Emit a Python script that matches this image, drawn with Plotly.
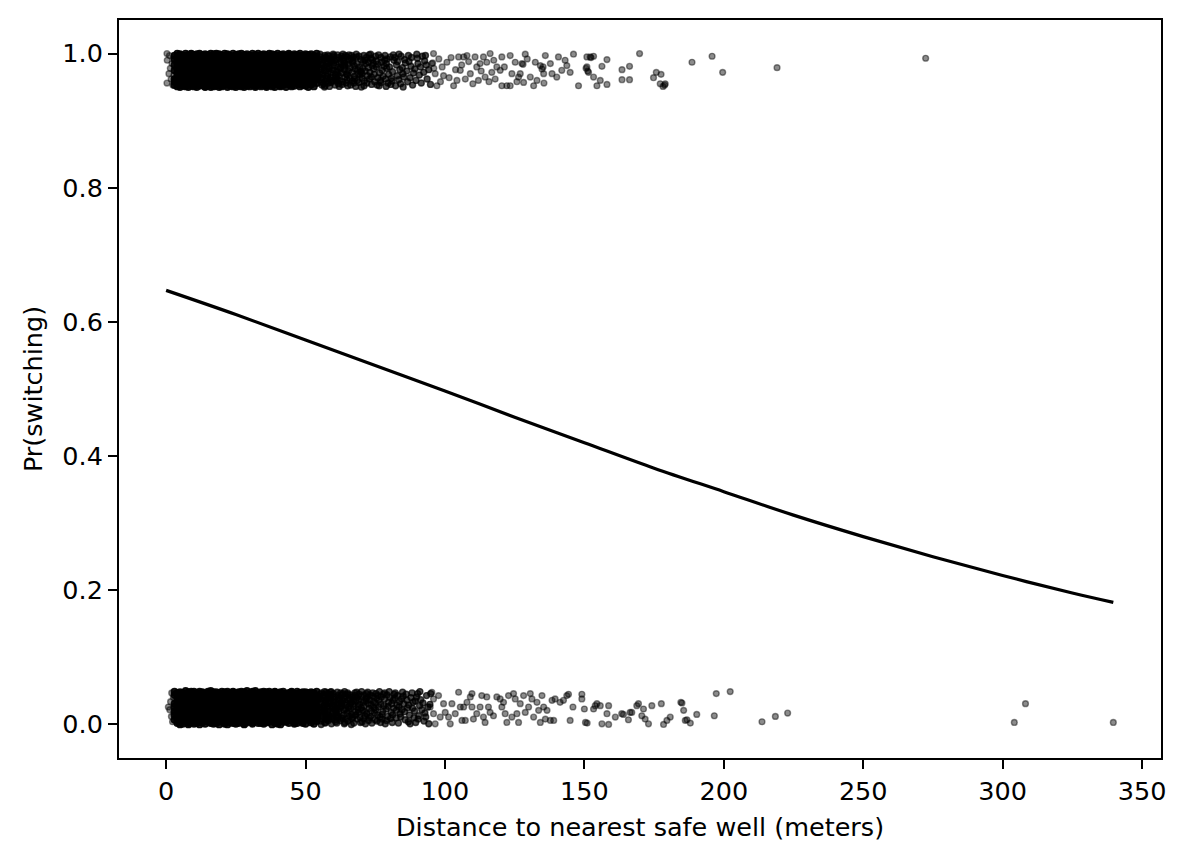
import plotly.graph_objects as go

# ---------------- data ----------------
# fitted curve Pr(switching) vs distance (m)
fit_dist = [0, 25, 50, 75, 100, 125, 150, 175, 200, 225, 250, 275, 300, 325, 339.7]
fit_pr = [0.647, 0.611, 0.573, 0.535, 0.497, 0.458, 0.420, 0.382, 0.347, 0.312,
          0.280, 0.250, 0.222, 0.196, 0.182]

# jitter values are in thousandths (0..50) above the band base (1 -> 0.95, 0 -> 0.0)

# --- switchers (top band) ---
# dense block: number of households per 1-m bin, starting at 3 m
top_core_counts = [7, 11, 13, 14, 15, 15, 16,
                   16, 16, 17, 16, 16, 17, 16, 16, 17, 16,
                   16, 17, 16, 16, 16, 17, 16, 16, 16, 16,
                   16, 16, 15, 16, 16, 15, 16, 15, 16, 15,
                   15, 15, 14, 15, 14, 14, 13, 14, 13, 13,
                   12, 12, 11, 12, 11]
top_core_jit = [
    12,47,3,33,25,41,8,19,50,29,1,38,15,44,22,6,35,27,48,10,
    31,4,42,17,26,49,13,37,0,21,45,9,30,40,16,2,34,23,46,11,
    28,43,7,36,20,14,50,32,5,39,24,18,47,1,29,44,12,26,38,3,
    41,15,33,9,48,22,6,35,19,45,27,0,40,13,30,49,8,24,37,17,
    2,46,21,34,11,43,28,5,39,16,50,25,10,36,31,3,44,18,27,7,
    42,14,33,48,20,1,37,23,9,45,30,12,40,26,4,35,17,49,22,8,
    38,29,0,44,15,32,47,6,24,41,11,36,19,2,46,27,13,34,50,21,
    5,39,25,10,43,18,31,48,3,28,16,42,7,35,22,45,0,30,14,37,
    26,9,47,20,33,1,40,12,49,24,6,38,17,44,29,4,36,11,46,23,
    15,41,32,2,27,48,8,19,35,45,13,30,0,39,21,43,10,25,50,6,
    34,18,44,28,3,37,14,47,23,9,42,31,16,1,40,26,49,11,36,20,
    7,45,29,12,38,22,50,4,33,17,46,25,8,41,19,35,2,30,43,14,
    27,0,39,10,48,21,32,6,44,16,37,24,13,49,3,28,42,18,34,9,
    46,20,5,36,26,41,11,31,47,1,23,38,15,45,29,7,40,17,50,12,
    33,3,43,22,14,39,27,8,48,19,35,0,30,44,10,25,37,4,42,16,
    24,49,13,32,6,46,18,40,28,2,36,21,11,47,31,15,43,9,26,38,
    1,34,45,17,29,5,41,23,12,50,20,37,8,44,27,14,39,3,32,48,
    19,10,35,42,25,0,30,46,16,38,7,28,49,13,33,22,4,45,18,40,
    11,43,26,2,37,21,47,9,31,15,40,6,24,36,1,44,29,17,50,12,
    35,8,41,27,18,45,3,33,22,48,14,38,10,30,42,5,26,46,19,0,
    29,39,13,44,7,25,36,16,49,2,32,21,43,11,37,28,6,47,15,34,
    23,4,40,31,12,47,20,1,38,26,45,9,35,17,42,30,14,50,3,27,
    44,18,6,36,24,41,10,33,48,15,0,29,39,21,8,46,32,13,37,25,
    2,42,28,11,45,19,34,5,40,23,50,16,30,7,43,26,12,38,20,47,
    14,31,48,22,3,37,27,9,44,17,35,1,41,25,10,49,33,18,6,39,
    30,12,45,26,40,8,21,36,15,47,4,32,24,42,0,28,46,11,35,19,
    48,23,2,38,16,43,29,10,34,50,20,7,44,27,13,39,5,31,22,41,
    9,36,25,47,1,33,18,45,12,28,40,3,37,21,49,15,30,8,43,26,
    39,6,31,17,46,24,0,41,27,14,35,48,10,22,44,32,4,38,19,29,
    16,50,11,34,21,43,7,30,45,2,26,37,13,48,18,40,9,33,24,1,
    42,27,36,5,47,15,32,20,39,11,44,23,3,35,28,49,14,41,6,31,
    25,10,45,19,38,0,29,46,13,34,22,42,8,37,17,50,26,4,30,43,
    12,40,21,48,7,33,26,15,44,3,36,18,47,24,9,39,31,1,45,20,
    35,14,28,2,41,23,49,11,30,38,5,46,16,27,43,10,34,21,48,6,
    18,44,32,9,37,25,1,42,20,47,13,29,40,4,35,22,50,15,26,39,
    3,30,47,16,24,45,12,36,8,41,27,19,49,2,33,44,11,38,23,28,
    46,7,34,40,15,28,43,21,0,37,31,10,45,25,18,48,5,32,14,42,
    22,39,4,29,49,13,35,26,44,9,20,41,1,36,30,47,17,24,11,45,
    33,16,43,6,27,38,19,50,12,31,2,46,23,40,8,35,28,14,48,21]

top_mid_x = [
    55.1,55.3,55.4,55.6,55.8,55.2,55.9,55.5,55.0,55.7,
    56.2,56.4,56.7,56.9,56.1,56.5,56.3,56.8,56.0,56.6,
    57.3,57.1,57.6,57.8,57.4,57.0,57.9,57.2,57.5,57.7,
    58.5,58.2,58.8,58.0,58.4,58.7,58.1,58.6,58.3,
    59.4,59.1,59.7,59.9,59.2,59.5,59.0,59.8,59.6,
    60.3,60.6,60.1,60.8,60.4,60.0,60.9,60.2,60.7,
    61.5,61.2,61.8,61.0,61.6,61.3,61.9,61.4,
    62.1,62.7,62.4,62.9,62.2,62.6,62.0,62.5,
    63.6,63.3,63.0,63.8,63.4,63.1,63.9,63.5,
    64.2,64.8,64.5,64.0,64.6,64.3,64.9,64.1,
    65.4,65.1,65.7,65.9,65.2,65.6,65.0,
    66.3,66.8,66.0,66.5,66.2,66.7,66.9,
    67.5,67.1,67.8,67.3,67.0,67.6,67.4,
    68.2,68.9,68.5,68.0,68.7,68.3,68.6,
    69.4,69.1,69.8,69.6,69.2,69.9,
    70.3,70.7,70.0,70.5,70.9,70.2,
    71.6,71.1,71.8,71.4,71.0,71.3,
    72.2,72.8,72.5,72.0,72.6,72.9,
    73.4,73.1,73.7,73.9,73.3,73.6,
    74.5,74.0,74.8,74.2,74.6,
    75.1,75.7,75.4,75.9,75.3,
    76.6,76.2,76.9,76.0,76.4,
    77.3,77.8,77.1,77.5,77.0,
    78.7,78.2,78.5,78.9,78.4,
    79.1,79.6,79.3,79.8,79.0,
    80.4,80.8,80.1,80.6,
    81.2,81.7,81.0,81.5,
    82.6,82.3,82.9,82.1,
    83.4,83.0,83.8,83.5,
    84.1,84.7,84.3,84.9,
    85.5,85.2,85.8,85.0,
    86.3,86.9,86.6,
    87.1,87.5,87.8,
    88.4,88.0,88.7,
    89.2,89.6,89.9,
    90.3,90.8,90.1,
    91.5,91.2,91.9,
    92.4,92.7,
    93.0,93.6,93.3,
    94.2,94.8]
top_mid_jit = [
    22,45,8,33,14,49,3,27,40,18,
    36,5,29,47,12,41,20,0,33,25,
    9,44,31,16,38,2,48,24,13,43,
    28,6,39,19,46,11,35,1,30,
    42,15,26,49,7,37,21,45,10,
    32,3,47,18,40,25,9,36,14,
    48,23,5,41,30,12,44,19,
    1,35,27,46,10,38,17,29,
    43,8,21,33,49,4,26,39,
    15,45,6,31,20,47,11,36,
    24,2,40,13,34,48,18,
    42,9,29,47,3,22,37,
    16,44,27,6,39,12,32,
    49,20,35,1,25,45,10,
    30,7,41,18,46,23,
    13,38,0,28,47,20,
    35,9,44,24,2,40,
    17,48,29,6,37,12,
    43,22,4,32,49,15,
    27,41,8,36,19,
    46,3,30,14,39,
    21,48,10,34,2,
    37,16,44,25,7,
    12,31,47,1,40,
    28,6,42,19,35,
    45,13,30,4,
    23,40,9,48,
    33,2,17,44,
    11,38,26,49,
    5,29,46,20,
    41,15,36,0,
    24,47,8,
    38,14,31,
    3,44,21,
    27,10,49,
    35,18,43,
    6,30,46,
    22,39,
    47,12,33,
    26,4]

top_sparse_x = [
    0.3, 0.4, 0.3, 1.0, 1.2, 1.5, 1.8, 2.1, 2.4, 2.6, 2.8,
    95.9, 95.3, 96.5, 97.1, 99.5, 100.7, 103.1, 104.9, 105.5, 106.7,
    107.9, 107.3, 109.1, 110.8, 111.4, 112.6, 112.0, 113.8, 114.4, 115.0,
    116.2, 116.8, 118.0, 118.6, 119.8, 120.4, 120.4, 122.2, 123.4, 123.4,
    124.0, 125.2, 126.4, 127.0, 127.6, 128.8, 128.2, 130.6, 131.8, 132.4,
    133.0, 134.2, 134.8, 135.4, 136.0, 137.8, 138.4, 140.1, 140.7, 141.9,
    143.1, 143.7, 144.9, 146.1, 147.9, 150.9, 152.1, 153.3, 150.9, 151.5,
    153.3, 154.5, 155.7, 156.3, 158.1, 158.1, 163.5, 163.5, 166.2, 166.2,
    169.8, 174.8, 175.8, 177.5, 177.2, 178.2, 179.0, 188.6, 195.8, 199.6,
    219.1, 272.4,
    96.0, 97.8, 98.4, 99.0, 101.5, 102.2, 103.8, 104.3, 106.0, 108.5,
    110.0, 113.0, 115.8, 117.5, 121.3, 125.8, 129.5, 135.5, 152.4, 150.6,
    151.2, 178.8, 128.0, 135.2, 95.6]
top_sparse_jit = [
    50, 40, 6, 20, 47, 28, 12, 35, 3, 44, 18,
    50, 35, 20, 2, 17, 37, 2, 45, 25, 45,
    47, 12, 20, 45, 30, 35, 10, 45, 15, 37,
    50, 22, 12, 30, 25, 45, 2, 2, 47, 2,
    20, 37, 15, 20, 35, 49, 7, 15, 2, 37,
    10, 32, 27, 20, 47, 35, 20, 15, 45, 25,
    40, 32, 22, 49, 2, 45, 45, 46, 30, 22,
    15, 2, 10, 31, 41, 4, 26, 11, 31, 11,
    50, 14, 22, 19, 5, 1, 5, 37, 46, 22,
    29, 43,
    28, 42, 8, 30, 14, 44, 26, 10, 33, 38,
    5, 24, 8, 40, 30, 8, 42, 6, 44, 28,
    24, 3, 34, 30, 36]

# --- non-switchers (bottom band) ---
bot_core_counts = [7, 11, 13, 14, 15, 15, 15,
                   16, 15, 16, 16, 15, 16, 16, 15, 16, 16,
                   15, 16, 16, 15, 16, 15, 16, 16, 15, 15,
                   15, 15, 16, 15, 14, 15, 15, 14, 15, 14,
                   14, 14, 13, 14, 14, 13, 13, 13, 12, 13,
                   12, 12, 11, 11, 12]
bot_core_jit = [
    20,44,7,31,14,49,26,2,38,17,45,10,33,23,41,5,29,47,12,36,
    0,25,42,16,34,8,48,21,39,3,30,13,46,27,9,43,19,35,1,40,
    24,11,47,32,6,37,18,44,28,4,50,15,35,22,42,9,31,26,45,13,
    38,2,29,41,17,48,23,7,34,46,11,27,39,0,20,43,14,33,25,49,
    8,36,19,45,30,3,40,24,12,47,28,16,37,5,44,21,32,10,42,18,
    27,49,1,35,22,14,43,31,6,39,25,46,9,33,18,41,2,29,47,15,
    11,40,26,4,46,32,20,38,13,49,7,30,44,17,36,23,0,42,28,12,
    45,19,34,9,28,41,15,48,24,3,37,21,47,11,31,5,39,26,43,16,
    30,6,44,23,38,1,33,18,46,27,12,40,4,35,25,49,14,32,8,42,
    17,47,29,10,36,21,45,3,31,41,16,26,50,7,38,22,13,44,2,34,
    39,24,5,43,15,33,27,48,9,20,46,30,1,37,12,42,28,18,45,6,
    26,35,48,13,41,8,22,39,31,2,44,17,34,24,47,10,36,19,4,29,
    43,14,30,37,0,46,25,12,40,21,33,6,49,28,16,38,9,45,23,32,
    7,41,19,27,47,11,35,44,3,29,22,42,14,36,1,31,48,18,39,25,
    34,0,45,21,9,38,30,16,49,26,5,43,32,12,40,20,27,46,10,37,
    15,28,42,3,33,47,18,24,36,8,44,13,29,41,23,2,35,49,17,30,
    48,22,11,39,26,6,43,34,14,46,31,19,1,38,27,45,10,33,24,4,
    36,12,47,29,18,40,2,25,44,15,37,9,48,21,32,43,7,28,41,16,
    23,45,31,5,37,20,49,13,28,42,4,35,18,46,11,30,39,25,0,44,
    10,33,19,48,26,1,41,29,16,38,45,7,24,34,50,14,27,42,3,36,
    42,27,6,32,44,22,12,47,35,9,21,40,30,15,43,5,37,19,48,26,
    3,39,46,17,28,34,7,43,23,1,49,31,11,36,25,41,18,45,13,30,
    32,14,24,50,8,40,19,35,44,27,13,38,2,47,20,29,42,10,33,22,
    46,5,37,21,43,15,30,2,39,48,24,6,34,26,45,12,40,28,17,49,
    19,31,9,44,25,36,47,16,11,33,41,1,29,44,7,37,23,46,14,35,
    28,48,18,3,40,29,21,45,34,6,26,49,15,39,32,4,43,20,10,41,
    37,9,42,25,14,47,0,33,22,43,18,36,8,45,27,13,49,30,40,2,
    21,44,30,12,35,26,48,7,41,17,39,3,46,24,11,34,19,42,28,15,
    47,1,34,40,20,10,43,29,5,38,31,45,23,14,48,36,0,26,33,9,
    13,38,24,46,8,31,17,41,27,49,4,22,37,12,44,29,40,6,35,20,
    41,26,4,28,45,37,13,2,47,19,35,28,42,8,30,16,46,24,11,39,
    6,32,49,15,23,42,33,20,10,44,25,48,1,36,21,43,9,31,45,17,
    35,18,38,43,3,27,46,11,39,30,14,7,49,25,34,2,40,22,47,12,
    24,45,10,30,36,16,5,41,21,47,32,40,18,4,28,44,13,37,26,48,
    2,29,43,20,48,12,39,26,34,8,46,17,31,42,1,23,45,15,36,27,
    44,16,33,7,38,25,47,14,3,41,29,20,48,35,11,39,6,30,43,22,
    31,47,22,40,13,1,34,45,27,18,43,9,36,24,49,16,38,5,28,41,
    12,37,26,46,19,42,31,8,44,23,15,48,3,33,40,27,10,45,21,35]

bot_mid_x = [
    55.0,55.2,55.4,55.5,55.7,55.9,55.1,55.3,55.6,55.8,55.4,
    56.1,56.3,56.6,56.8,56.0,56.4,56.9,56.2,56.5,56.7,
    57.2,57.5,57.8,57.0,57.3,57.6,57.9,57.1,57.4,57.7,57.5,
    58.1,58.4,58.7,58.9,58.2,58.5,58.0,58.6,58.3,58.8,
    59.3,59.6,59.0,59.8,59.1,59.5,59.9,59.2,59.7,59.4,
    60.2,60.5,60.8,60.0,60.4,60.7,60.1,60.9,60.3,60.6,
    61.4,61.1,61.7,61.9,61.2,61.5,61.0,61.8,61.3,
    62.5,62.2,62.8,62.0,62.6,62.3,62.9,62.1,62.7,
    63.1,63.6,63.3,63.9,63.0,63.4,63.7,63.2,63.8,
    64.4,64.0,64.7,64.2,64.9,64.5,64.1,64.6,
    65.3,65.8,65.0,65.5,65.2,65.9,65.6,65.1,
    66.6,66.1,66.4,66.9,66.2,66.7,66.0,66.5,
    67.2,67.7,67.0,67.4,67.9,67.3,67.6,67.1,
    68.5,68.1,68.8,68.3,68.0,68.6,68.9,
    69.2,69.7,69.4,69.0,69.9,69.5,69.1,
    70.4,70.1,70.8,70.6,70.0,70.3,70.9,
    71.3,71.7,71.0,71.5,71.9,71.2,71.6,
    72.1,72.6,72.9,72.3,72.0,72.5,72.8,
    73.5,73.2,73.8,73.0,73.6,73.3,
    74.1,74.7,74.4,74.9,74.2,74.6,
    75.6,75.0,75.3,75.8,75.5,75.2,
    76.3,76.8,76.1,76.5,76.9,76.0,
    77.7,77.2,77.5,77.0,77.9,77.4,
    78.1,78.6,78.3,78.9,78.4,
    79.5,79.2,79.8,79.0,79.6,
    80.3,80.7,80.0,80.5,80.9,
    81.6,81.1,81.4,81.8,81.2,
    82.2,82.8,82.5,82.0,82.6,
    83.3,83.7,83.0,83.9,83.5,
    84.4,84.1,84.8,84.6,
    85.7,85.2,85.0,85.5,
    86.1,86.6,86.9,86.4,
    87.3,87.8,87.0,87.5,
    88.6,88.2,88.9,88.4,
    89.1,89.5,89.8,89.3,
    90.2,90.6,90.9,90.4,
    91.3,91.7,91.0,
    92.5,92.1,92.8,
    93.4,93.9,93.1,
    94.6,94.2,94.9]
bot_mid_jit = [
    18,42,5,31,47,12,26,38,0,22,45,
    9,35,28,49,15,40,3,24,44,19,
    33,7,46,21,11,38,27,2,48,16,30,
    41,14,25,48,6,36,20,45,10,32,
    1,27,43,17,39,8,34,49,23,12,
    37,22,4,46,29,13,41,18,33,7,
    48,25,11,36,2,43,20,30,15,
    6,40,32,19,47,24,9,38,27,
    44,14,35,1,28,46,21,10,39,
    23,49,8,33,17,42,3,29,
    36,12,45,26,5,38,20,47,
    15,31,0,41,24,9,44,34,
    27,47,11,37,19,2,43,30,
    8,35,22,48,14,40,26,
    45,3,30,18,42,11,36,
    21,49,9,33,25,4,44,
    13,38,28,1,46,19,35,
    40,6,24,48,16,31,10,
    29,44,2,37,20,12,
    47,17,34,7,42,25,
    5,32,46,14,39,22,
    36,11,26,49,3,43,
    19,41,8,30,45,15,
    28,1,38,23,47,
    12,44,33,6,27,
    40,18,49,9,31,
    24,3,36,45,14,
    47,29,10,39,21,
    2,34,43,16,26,
    38,11,48,22,
    7,31,42,19,
    45,25,4,36,
    14,40,29,1,
    33,47,10,24,
    20,3,41,35,
    46,13,28,8,
    37,22,49,
    5,32,17,
    43,26,11,
    30,1,46]

bot_sparse_x = [
    0.8, 1.3, 1.6, 1.9, 2.0, 2.3, 2.6, 2.8,
    95.3, 95.9, 94.7, 95.9, 96.5, 97.7, 98.3, 99.5, 100.1, 101.3,
    101.9, 102.5, 103.7, 104.9, 105.5, 106.1, 106.7, 107.3, 107.9, 109.1,
    109.7, 109.7, 110.2, 111.4, 112.6, 113.2, 113.8, 114.4, 115.0, 115.6,
    116.2, 117.4, 118.6, 119.8, 120.4, 121.0, 121.6, 122.2, 122.8, 124.0,
    124.6, 125.2, 125.8, 126.4, 127.0, 128.2, 128.8, 130.0, 130.6, 131.2,
    131.8, 133.0, 133.6, 134.2, 134.8, 135.4, 136.0, 136.6, 137.8, 138.4,
    139.0, 139.5, 141.3, 142.5, 143.7, 144.3,
    144.9, 145.9, 149.1, 149.1, 150.0, 150.4, 151.0, 153.3, 153.9, 154.5,
    155.7, 156.3, 158.1, 158.7, 158.7, 161.1, 163.4, 164.0, 165.8, 166.4,
    167.0, 168.8, 169.4, 170.6, 171.2, 171.8, 173.0, 174.2, 177.6, 178.4,
    179.6, 180.8, 184.6, 185.0, 185.6, 186.2, 186.8, 188.0, 190.3, 196.6,
    197.3, 202.3, 213.7, 218.5, 222.9, 304.2, 308.2, 339.7]
bot_sparse_jit = [
    26, 22, 34, 12, 47, 4, 40, 17,
    48, 38, 26, 16, 1, 43, 11, 31, 18, 11,
    1, 31, 16, 48, 26, 6, 26, 6, 33, 41,
    46, 26, 8, 16, 26, 43, 11, 3, 41, 26,
    18, 13, 41, 38, 26, 33, 16, 3, 43, 11,
    46, 38, 16, 3, 31, 43, 18, 26, 46, 38,
    11, 33, 21, 3, 43, 26, 8, 21, 6, 36,
    6, 38, 33, 36, 43, 45,
    6, 26, 45, 38, 23, 3, 2, 23, 28, 31,
    28, 1, 16, 28, 0, 11, 16, 15, 7, 18,
    18, 28, 31, 13, 23, 8, 1, 28, 31, 0,
    6, 11, 33, 32, 21, 6, 7, 2, 15, 13,
    46, 49, 4, 12, 17, 3, 31, 3]

# ---------------- assemble ----------------
def expand_bins(counts, start):
    xs = []
    for i, c in enumerate(counts):
        xs += [start + i] * c
    return xs

tcx = expand_bins(top_core_counts, 3)
n = min(len(tcx), len(top_core_jit))
bcx = expand_bins(bot_core_counts, 3)
m = min(len(bcx), len(bot_core_jit))

core_x = tcx[:n] + bcx[:m]
core_y = [0.95 + j / 1000 for j in top_core_jit[:n]] + [j / 1000 for j in bot_core_jit[:m]]
mid_x = top_mid_x + bot_mid_x
mid_y = [0.95 + j / 1000 for j in top_mid_jit] + [j / 1000 for j in bot_mid_jit]
sp_x = top_sparse_x + bot_sparse_x
sp_y = [0.95 + j / 1000 for j in top_sparse_jit] + [j / 1000 for j in bot_sparse_jit]

FONT = "DejaVu Sans"
FS = 25.5

def pts(xs, ys, alpha, size=5.8, lw=1.4):
    c = "rgba(0,0,0,%.2f)" % alpha
    return go.Scatter(x=xs, y=ys, mode="markers",
                      marker=dict(size=size, color=c, line=dict(width=lw, color=c)),
                      hoverinfo="skip", showlegend=False)

fig = go.Figure()
fig.add_trace(pts(core_x, core_y, 0.9, size=6.4))
fig.add_trace(pts(mid_x, mid_y, 0.7, size=6.0))
fig.add_trace(pts(sp_x, sp_y, 0.45))
fig.add_trace(go.Scatter(
    x=fit_dist, y=fit_pr, mode="lines",
    line=dict(color="black", width=3.2, shape="spline"),
    hoverinfo="skip", showlegend=False))

axis_common = dict(
    showline=True, mirror=True, linecolor="black", linewidth=2,
    ticks="outside", ticklen=9, tickwidth=2, tickcolor="black",
    showgrid=False, zeroline=False,
    tickfont=dict(family=FONT, size=FS, color="black"),
)
fig.update_xaxes(
    range=[-16.9, 356.8], tickvals=[0, 50, 100, 150, 200, 250, 300, 350],
    title=dict(text="Distance to nearest safe well (meters)",
               font=dict(family=FONT, size=FS, color="black"), standoff=14),
    **axis_common)
fig.update_yaxes(
    range=[-0.05, 1.05], tickvals=[0, 0.2, 0.4, 0.6, 0.8, 1.0],
    ticktext=["0.0", "0.2", "0.4", "0.6", "0.8", "1.0"],
    title=dict(text="Pr(switching)",
               font=dict(family=FONT, size=FS, color="black"), standoff=12),
    **axis_common)
fig.update_layout(
    width=1187, height=861,
    margin=dict(l=111, r=34, t=10, b=111),
    paper_bgcolor="white", plot_bgcolor="white",
    font=dict(family=FONT, size=FS, color="black"),
)
fig.write_html("out.html")
